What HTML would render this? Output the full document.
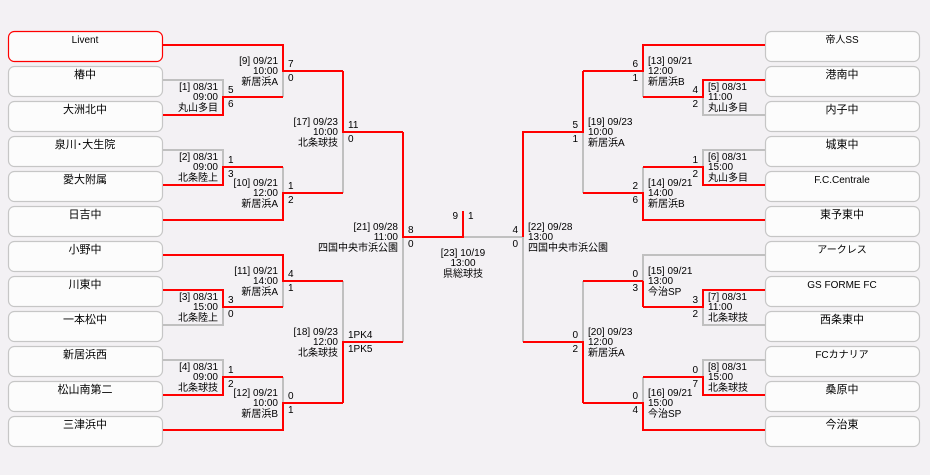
<!DOCTYPE html>
<html><head><meta charset="utf-8"><style>
html,body{margin:0;padding:0;background:#f3f1f4;}
svg{display:block;}
text{font-family:"Liberation Sans","Noto Sans CJK JP",sans-serif;fill:#000;}
.t{font-size:11px;text-anchor:middle;}
.l{font-size:10px;}
.e{text-anchor:end;}
.m{text-anchor:middle;}
</style></head><body>
<svg width="930" height="475" viewBox="0 0 930 475" xmlns="http://www.w3.org/2000/svg">
<rect width="930" height="475" fill="#f3f1f4"/>
<g fill="#fcfcfc" stroke="#c6c6c6" stroke-width="1.2">
<rect x="8.5" y="31.5" width="154" height="30" rx="6" stroke="#ff0000"/>
<rect x="8.5" y="66.5" width="154" height="30" rx="6"/>
<rect x="8.5" y="101.5" width="154" height="30" rx="6"/>
<rect x="8.5" y="136.5" width="154" height="30" rx="6"/>
<rect x="8.5" y="171.5" width="154" height="30" rx="6"/>
<rect x="8.5" y="206.5" width="154" height="30" rx="6"/>
<rect x="8.5" y="241.5" width="154" height="30" rx="6"/>
<rect x="8.5" y="276.5" width="154" height="30" rx="6"/>
<rect x="8.5" y="311.5" width="154" height="30" rx="6"/>
<rect x="8.5" y="346.5" width="154" height="30" rx="6"/>
<rect x="8.5" y="381.5" width="154" height="30" rx="6"/>
<rect x="8.5" y="416.5" width="154" height="30" rx="6"/>
<rect x="765.5" y="31.5" width="154" height="30" rx="6"/>
<rect x="765.5" y="66.5" width="154" height="30" rx="6"/>
<rect x="765.5" y="101.5" width="154" height="30" rx="6"/>
<rect x="765.5" y="136.5" width="154" height="30" rx="6"/>
<rect x="765.5" y="171.5" width="154" height="30" rx="6"/>
<rect x="765.5" y="206.5" width="154" height="30" rx="6"/>
<rect x="765.5" y="241.5" width="154" height="30" rx="6"/>
<rect x="765.5" y="276.5" width="154" height="30" rx="6"/>
<rect x="765.5" y="311.5" width="154" height="30" rx="6"/>
<rect x="765.5" y="346.5" width="154" height="30" rx="6"/>
<rect x="765.5" y="381.5" width="154" height="30" rx="6"/>
<rect x="765.5" y="416.5" width="154" height="30" rx="6"/>
</g>
<!-- gray lines -->
<g stroke="#c0c0c0" stroke-width="2" fill="none">
<path d="M163 80H223V97"/>
<path d="M163 150H223V167"/>
<path d="M283 71V97"/>
<path d="M283 167V193"/>
<path d="M343 132V193"/>
<path d="M223 307V325H163"/>
<path d="M283 281V307"/>
<path d="M163 360H223V377"/>
<path d="M283 377V403"/>
<path d="M343 281V342"/>
<path d="M403 237V342"/>
<path d="M463 237H523V342"/>
<path d="M703 97V115H765"/>
<path d="M765 150H703V167"/>
<path d="M643 71V97"/>
<path d="M643 167V193"/>
<path d="M583 132V193"/>
<path d="M703 307V325H765"/>
<path d="M765 255H643V281"/>
<path d="M765 360H703V377"/>
<path d="M643 377V403"/>
<path d="M583 281V342"/>
</g>
<!-- red lines -->
<g stroke="#ff0000" stroke-width="2" fill="none">
<path d="M163 115H223V97H283"/>
<path d="M163 185H223V167H283"/>
<path d="M163 45H283V71H343"/>
<path d="M163 220H283V193H343"/>
<path d="M343 71V132H403"/>
<path d="M163 290H223V307H283"/>
<path d="M163 255H283V281H343"/>
<path d="M163 395H223V377H283"/>
<path d="M163 430H283V403H343"/>
<path d="M343 403V342H403"/>
<path d="M403 132V237H463V211"/>
<path d="M765 80H703V97H643"/>
<path d="M765 185H703V167H643"/>
<path d="M765 45H643V71H583"/>
<path d="M765 220H643V193H583"/>
<path d="M583 71V132H523V237"/>
<path d="M765 290H703V307H643"/>
<path d="M643 281V307"/>
<path d="M643 281H583"/>
<path d="M765 395H703V377H643"/>
<path d="M765 430H643V403H583"/>
<path d="M583 403V342H523"/>
</g>
<!-- team names -->
<g class="t">
<text x="85" y="43" style="font-size:10px">Livent</text>
<text x="85" y="78">椿中</text>
<text x="85" y="113">大洲北中</text>
<text x="85" y="148">泉川･大生院</text>
<text x="85" y="183">愛大附属</text>
<text x="85" y="218">日吉中</text>
<text x="85" y="253">小野中</text>
<text x="85" y="288">川東中</text>
<text x="85" y="323">一本松中</text>
<text x="85" y="358">新居浜西</text>
<text x="85" y="393">松山南第二</text>
<text x="85" y="428">三津浜中</text>
<text x="842" y="43" style="font-size:10px">帝人SS</text>
<text x="842" y="78">港南中</text>
<text x="842" y="113">内子中</text>
<text x="842" y="148">城東中</text>
<text x="842" y="183" style="font-size:10px">F.C.Centrale</text>
<text x="842" y="218">東予東中</text>
<text x="842" y="253" style="font-size:10px">アークレス</text>
<text x="842" y="288" style="font-size:10px">GS FORME FC</text>
<text x="842" y="323">西条東中</text>
<text x="842" y="358" style="font-size:10px">FCカナリア</text>
<text x="842" y="393">桑原中</text>
<text x="842" y="428">今治東</text>
</g>
<!-- left labels -->
<g class="l e">
<text x="218" y="90">[1] 08/31</text><text x="218" y="100">09:00</text><text x="218" y="111">丸山多目</text>
<text x="218" y="160">[2] 08/31</text><text x="218" y="170">09:00</text><text x="218" y="181">北条陸上</text>
<text x="278" y="64">[9] 09/21</text><text x="278" y="74">10:00</text><text x="278" y="85">新居浜A</text>
<text x="278" y="186">[10] 09/21</text><text x="278" y="196">12:00</text><text x="278" y="207">新居浜A</text>
<text x="338" y="125">[17] 09/23</text><text x="338" y="135">10:00</text><text x="338" y="146">北条球技</text>
<text x="398" y="230">[21] 09/28</text><text x="398" y="240">11:00</text><text x="398" y="251">四国中央市浜公園</text>
<text x="218" y="300">[3] 08/31</text><text x="218" y="310">15:00</text><text x="218" y="321">北条陸上</text>
<text x="278" y="274">[11] 09/21</text><text x="278" y="284">14:00</text><text x="278" y="295">新居浜A</text>
<text x="218" y="370">[4] 08/31</text><text x="218" y="380">09:00</text><text x="218" y="391">北条球技</text>
<text x="278" y="396">[12] 09/21</text><text x="278" y="406">10:00</text><text x="278" y="417">新居浜B</text>
<text x="338" y="335">[18] 09/23</text><text x="338" y="345">12:00</text><text x="338" y="356">北条球技</text>
</g>
<g class="l">
<text x="228" y="93">5</text><text x="228" y="107">6</text>
<text x="228" y="163">1</text><text x="228" y="177">3</text>
<text x="288" y="67">7</text><text x="288" y="81">0</text>
<text x="288" y="189">1</text><text x="288" y="203">2</text>
<text x="348" y="128">11</text><text x="348" y="142">0</text>
<text x="408" y="233">8</text><text x="408" y="247">0</text>
<text x="228" y="303">3</text><text x="228" y="317">0</text>
<text x="288" y="277">4</text><text x="288" y="291">1</text>
<text x="228" y="373">1</text><text x="228" y="387">2</text>
<text x="288" y="399">0</text><text x="288" y="413">1</text>
<text x="348" y="338">1PK4</text><text x="348" y="352">1PK5</text>
</g>
<!-- right labels -->
<g class="l">
<text x="708" y="90">[5] 08/31</text><text x="708" y="100">11:00</text><text x="708" y="111">丸山多目</text>
<text x="708" y="160">[6] 08/31</text><text x="708" y="170">15:00</text><text x="708" y="181">丸山多目</text>
<text x="648" y="64">[13] 09/21</text><text x="648" y="74">12:00</text><text x="648" y="85">新居浜B</text>
<text x="648" y="186">[14] 09/21</text><text x="648" y="196">14:00</text><text x="648" y="207">新居浜B</text>
<text x="588" y="125">[19] 09/23</text><text x="588" y="135">10:00</text><text x="588" y="146">新居浜A</text>
<text x="528" y="230">[22] 09/28</text><text x="528" y="240">13:00</text><text x="528" y="251">四国中央市浜公園</text>
<text x="708" y="300">[7] 08/31</text><text x="708" y="310">11:00</text><text x="708" y="321">北条球技</text>
<text x="648" y="274">[15] 09/21</text><text x="648" y="284">13:00</text><text x="648" y="295">今治SP</text>
<text x="708" y="370">[8] 08/31</text><text x="708" y="380">15:00</text><text x="708" y="391">北条球技</text>
<text x="648" y="396">[16] 09/21</text><text x="648" y="406">15:00</text><text x="648" y="417">今治SP</text>
<text x="588" y="335">[20] 09/23</text><text x="588" y="345">12:00</text><text x="588" y="356">新居浜A</text>
</g>
<g class="l e">
<text x="698" y="93">4</text><text x="698" y="107">2</text>
<text x="698" y="163">1</text><text x="698" y="177">2</text>
<text x="638" y="67">6</text><text x="638" y="81">1</text>
<text x="638" y="189">2</text><text x="638" y="203">6</text>
<text x="578" y="128">5</text><text x="578" y="142">1</text>
<text x="518" y="233">4</text><text x="518" y="247">0</text>
<text x="698" y="303">3</text><text x="698" y="317">2</text>
<text x="638" y="277">0</text><text x="638" y="291">3</text>
<text x="698" y="373">0</text><text x="698" y="387">7</text>
<text x="638" y="399">0</text><text x="638" y="413">4</text>
<text x="578" y="338">0</text><text x="578" y="352">2</text>
</g>
<!-- final -->
<g class="l">
<text x="458" y="219" class="e">9</text><text x="468" y="219">1</text>
<text x="463" y="256" class="m">[23] 10/19</text>
<text x="463" y="266" class="m">13:00</text>
<text x="463" y="277" class="m">県総球技</text>
</g>
</svg>
</body></html>
